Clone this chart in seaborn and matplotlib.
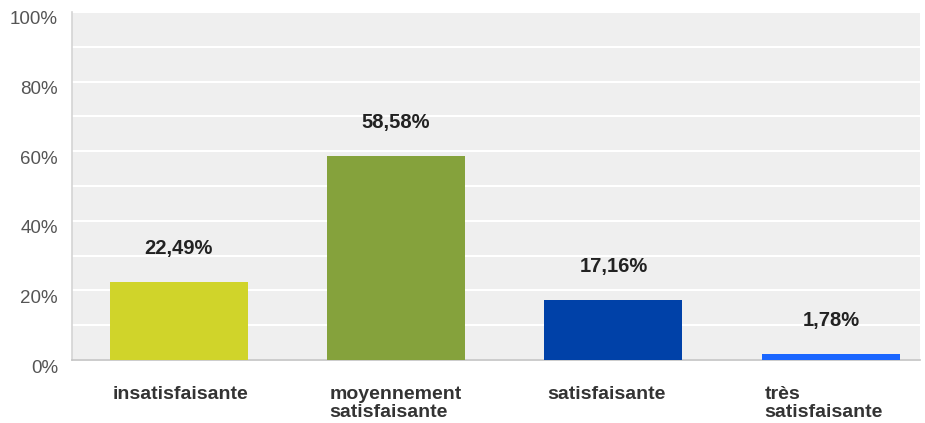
import matplotlib
matplotlib.use("Agg")
import matplotlib.pyplot as plt
import matplotlib.transforms as mtransforms
import seaborn as sns
import pandas as pd
from matplotlib.ticker import MultipleLocator, FixedLocator

# données
categories = ["insatisfaisante", "moyennement\nsatisfaisante", "satisfaisante", "très\nsatisfaisante"]
valeurs = [22.49, 58.58, 17.16, 1.78]
etiquettes = ["22,49%", "58,58%", "17,16%", "1,78%"]
couleurs = ["#d0d42a", "#85a23c", "#0041a8", "#1a66ff"]
yticks = [0, 20, 40, 60, 80, 100]

df = pd.DataFrame({"cat": categories, "val": valeurs})

sns.set_style("white")
plt.rcParams["font.family"] = ["Liberation Sans", "DejaVu Sans"]

fig = plt.figure(figsize=(9.25, 4.23), dpi=100)
ax = fig.add_axes([72 / 925, 1 - 360 / 423, 848 / 925, 348 / 423])
ax.set_facecolor("#efefef")

largeur = 0.635
sns.barplot(data=df, x="cat", y="val", hue="cat", palette=couleurs,
            legend=False, width=largeur, saturation=1, linewidth=0,
            ax=ax, zorder=3)

ax.set_ylim(0, 100)
ax.set_xlim(-0.49, 3.41)
ax.yaxis.set_major_locator(FixedLocator(yticks))
ax.yaxis.set_minor_locator(MultipleLocator(10))
ax.set_yticklabels([f"{t}%" for t in yticks], color="#555555", fontsize=13.5)
ax.tick_params(axis="y", length=0, pad=10)
# étiquettes de l'axe y légèrement décalées vers le bas
decalage = mtransforms.ScaledTranslation(0, -6 / 100, fig.dpi_scale_trans)
for lab in ax.get_yticklabels():
    lab.set_transform(lab.get_transform() + decalage)
ax.grid(axis="y", which="both", color="white", linewidth=1.5, zorder=0)
ax.set_axisbelow(True)

ax.set_xticks(range(len(categories)))
ax.set_xticklabels([])
ax.tick_params(axis="x", length=0)
ax.set_xlabel("")
ax.set_ylabel("")

for s in ["top", "right"]:
    ax.spines[s].set_visible(False)
ax.spines["left"].set_color("#d4d4d4")
ax.spines["bottom"].set_color("#c4c4c4")
ax.spines["left"].set_linewidth(1.2)
ax.spines["bottom"].set_linewidth(1.2)

# valeurs au-dessus des barres
for i, (v, lab) in enumerate(zip(valeurs, etiquettes)):
    ax.annotate(lab, xy=(i, v), xytext=(0, 24), textcoords="offset points",
                ha="center", va="center", fontsize=14.5, fontweight="bold",
                color="#222222")

# libellés des catégories, alignés à gauche
for i, c in enumerate(categories):
    ax.annotate(c, xy=(i - largeur / 2, 0), xytext=(2, -18.5), textcoords="offset points",
                ha="left", va="top", fontsize=14, fontweight="bold",
                color="#333333", linespacing=1.12, annotation_clip=False)

fig.savefig("out.png", dpi=100)
